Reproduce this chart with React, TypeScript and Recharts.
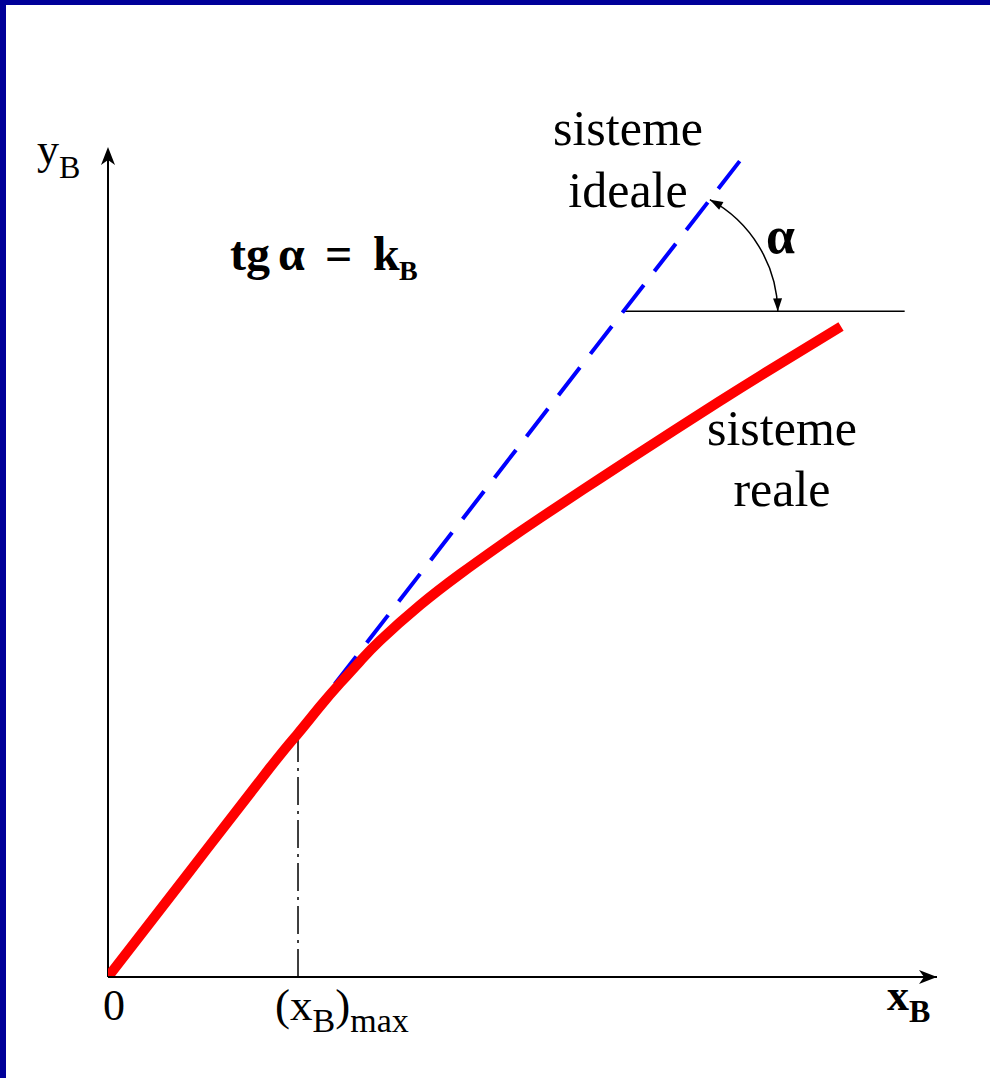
import React from 'react';
import { LineChart, Line, XAxis, YAxis, ReferenceLine, Customized } from 'recharts';

// real system curve (x_B, y_B) in percent of axis length
const realX = [0, 9.77, 19.54, 22.92, 25.57, 27.99, 30.4, 32.81, 37.64, 42.46, 47.29, 52.11, 59.35, 66.59, 73.82, 78.65, 88.42];
const realY = [0, 12.61, 25.22, 29.34, 32.59, 35.39, 38.04, 40.53, 44.8, 48.54, 51.99, 55.29, 60.06, 64.76, 69.39, 72.42, 78.37];

// ideal system: straight line k_B * x_B, drawn from its tip down to (x_B)max
const idealX = [76.2, 22.92];
const idealY = [98.3, 29.57];

// (x_B)max and the horizontal leg of the angle
const xMax = 22.92;
const yAtXMax = 29.34;
const legY = 80.2;
const legX = [62.2, 96.1];

const realData = realX.map((x, i) => ({ x, y: realY[i] }));
const idealData = idealX.map((x, i) => ({ x, y: idealY[i] }));

const W = 990;
const H = 1078;
const X_AXIS_H = 40;
const MARGIN = { top: 147, right: 53, bottom: 1078 - 977 - X_AXIS_H, left: 108 };
const PLOT = { left: 108, right: 937, top: 147, bottom: 977 };

const px = (x: number) => PLOT.left + (x / 100) * (PLOT.right - PLOT.left);
const py = (y: number) => PLOT.bottom - (y / 100) * (PLOT.bottom - PLOT.top);

const FONT = '"Liberation Serif", "Times New Roman", serif';

const XTick = (props: any) => {
  const { x, payload } = props;
  const base = PLOT.bottom + 43;
  if (payload.value === 0) {
    return (
      <text x={x + 6} y={base} textAnchor="middle" fontFamily={FONT} fontSize={44} fill="#000">
        0
      </text>
    );
  }
  return (
    <text x={x - 23} y={base} fontFamily={FONT} fontSize={45} fill="#000">
      <tspan>(x</tspan>
      <tspan fontSize={34} dy={12}>B</tspan>
      <tspan dy={-12}>)</tspan>
      <tspan fontSize={34} dy={12}>max</tspan>
    </text>
  );
};

const Annotations = () => {
  const a0 = { x: px(72.6), y: py(72.6 * 1.29) };
  const a1 = { x: px(80.8), y: py(legY) };
  const ox = PLOT.right;
  const oy = PLOT.bottom;
  const yx = PLOT.left;
  const yy = PLOT.top;
  return (
    <g>
      <defs>
        <marker
          id="tipArrow"
          viewBox="-14 -6 15 12"
          refX={0}
          refY={0}
          markerWidth={15}
          markerHeight={12}
          markerUnits="userSpaceOnUse"
          orient="auto-start-reverse"
        >
          <path d="M0,0 L-13,-4.5 L-13,4.5 Z" fill="#000" />
        </marker>
      </defs>
      {/* y axis line and both axis arrow heads */}
      <line x1={yx} y1={oy} x2={yx} y2={yy + 12} stroke="#000" strokeWidth={2} />
      <path d={`M${ox},${oy} L${ox - 18},${oy - 7} L${ox - 13},${oy} L${ox - 18},${oy + 7} Z`} fill="#000" />
      <path d={`M${yx},${yy} L${yx - 7},${yy + 18} L${yx},${yy + 13} L${yx + 7},${yy + 18} Z`} fill="#000" />
      {/* angle arc */}
      <path
        d={`M${a0.x},${a0.y} A130,130 0 0 1 ${a1.x},${a1.y}`}
        fill="none"
        stroke="#000"
        strokeWidth={1.5}
        markerStart="url(#tipArrow)"
        markerEnd="url(#tipArrow)"
      />
      <g fontFamily={FONT} fill="#000">
        <text x={37} y={164} fontSize={44}>
          <tspan>y</tspan>
          <tspan fontSize={32} dy={14}>B</tspan>
        </text>
        <text x={887} y={1010} fontSize={44} fontWeight="bold">
          <tspan>x</tspan>
          <tspan fontSize={32} dy={12}>B</tspan>
        </text>
        <text y={270} fontSize={48} fontWeight="bold">
          <tspan x={230}>tg</tspan>
          <tspan x={278}>α</tspan>
          <tspan x={325}>=</tspan>
          <tspan x={373}>k</tspan>
          <tspan x={399} fontSize={28} dy={10}>B</tspan>
        </text>
        <text x={628} y={145} fontSize={50} textAnchor="middle">sisteme</text>
        <text x={628} y={207} fontSize={50} textAnchor="middle">ideale</text>
        <text x={766} y={253} fontSize={52} fontWeight="bold">α</text>
        <text x={782} y={445} fontSize={50} textAnchor="middle">sisteme</text>
        <text x={782} y={506} fontSize={50} textAnchor="middle">reale</text>
      </g>
    </g>
  );
};

export default function App() {
  return (
    <div style={{ position: 'absolute', left: 0, top: 0, width: W, height: H, background: '#fff' }}>
      <LineChart width={W} height={H} margin={MARGIN}>
        <XAxis
          type="number"
          dataKey="x"
          domain={[0, 100]}
          allowDataOverflow
          ticks={[0, xMax]}
          tickLine={false}
          tick={<XTick />}
          height={X_AXIS_H}
          axisLine={{ stroke: '#000', strokeWidth: 2 }}
        />
        <YAxis type="number" dataKey="y" domain={[0, 100]} allowDataOverflow hide />
        <ReferenceLine
          segment={[{ x: xMax, y: 0 }, { x: xMax, y: yAtXMax }]}
          stroke="#000"
          strokeWidth={1.5}
          strokeDasharray="28 6 3 6"
        />
        <ReferenceLine
          segment={[{ x: legX[0], y: legY }, { x: legX[1], y: legY }]}
          stroke="#000"
          strokeWidth={1.5}
        />
        <Line
          data={idealData}
          dataKey="y"
          type="linear"
          stroke="#0000FF"
          strokeWidth={4}
          strokeDasharray="35 17.2"
          dot={false}
          isAnimationActive={false}
        />
        <Line
          data={realData}
          dataKey="y"
          type="natural"
          stroke="#FF0000"
          strokeWidth={10}
          dot={false}
          isAnimationActive={false}
        />
        <Customized component={Annotations} />
      </LineChart>
      <div style={{ position: 'absolute', left: 0, top: 0, width: W, height: 5, background: '#000099' }} />
      <div style={{ position: 'absolute', left: 0, top: 0, width: 6, height: H, background: '#000099' }} />
    </div>
  );
}
